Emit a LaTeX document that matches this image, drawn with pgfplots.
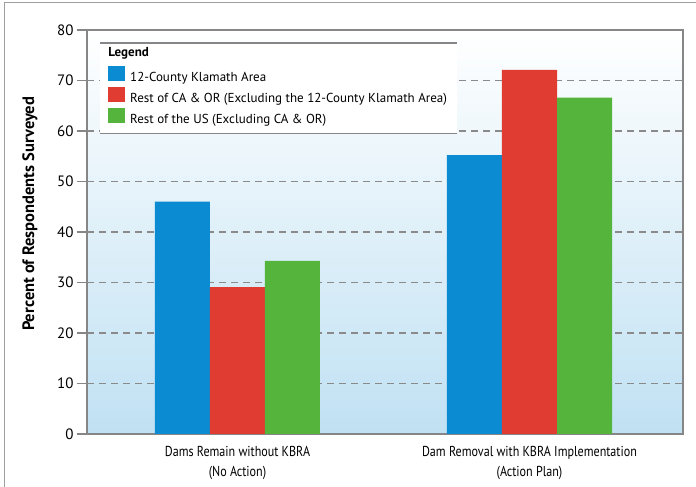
\documentclass[border=0pt]{standalone}
\usepackage{fontspec}
\setmainfont{PT Sans}
\newfontfamily\condfont[FakeStretch=0.84]{PT Sans}
\usepackage{pgfplots}
\pgfplotsset{compat=1.18}
\definecolor{kblue}{HTML}{0A8BD2}
\definecolor{kred}{HTML}{E03C31}
\definecolor{kgreen}{HTML}{55B43C}
\definecolor{framegray}{HTML}{868686}
\definecolor{gridgray}{HTML}{8A8A8A}
\definecolor{bgblue}{HTML}{C0E1F3}
\begin{document}
\begin{tikzpicture}[x=1pt,y=1pt]
\useasboundingbox (0,0) rectangle (696,487);
\draw[framegray!80, line width=1.5pt] (696,484.5) -- (4.5,484.5) -- (4.5,0);
\begin{axis}[
  at={(87pt,53pt)}, anchor=south west,
  scale only axis, width=596pt, height=404pt,
  xmin=-0.5154, xmax=1.5257, ymin=0, ymax=80,
  ybar=0pt, bar width=55pt,
  xtick={0,1},
  xticklabels={{Dams Remain without KBRA\\(No Action)},{Dam Removal with KBRA Implementation\\(Action Plan)}},
  xticklabel style={align=center, font=\condfont\fontsize{14.4}{20}\selectfont, yshift=1.5pt},
  x tick style={draw=none},
  ytick={0,10,...,80},
  tick pos=left, tick align=outside, major tick length=10pt,
  y tick style={framegray, line width=1.2pt},
  yticklabel style={font=\fontsize{15}{17}\selectfont},
  /pgf/number format/assume math mode=true,
  ymajorgrids,
  grid style={gridgray, line width=1.2pt, dash pattern=on 7pt off 5pt},
  axis background/.style={shade, top color=white, bottom color=bgblue},
  axis line style={framegray, line width=1.8pt},
  ylabel={\bfseries Percent of Respondents Surveyed},
  ylabel style={at={(axis description cs:-0.0956,0.545)}, anchor=center, font=\fontsize{16.5}{18}\selectfont},
  legend style={at={(axis description cs:0,1)}, anchor=north west, xshift=13pt, yshift=-13pt,
    draw=none, fill=white, font=\fontsize{13}{15}\selectfont,
    inner xsep=8pt, inner ysep=6pt, row sep=1.8pt, name=leg, cells={anchor=west}},
  legend cell align=left,
]
\addlegendimage{legend image code/.code={\node[overlay, anchor=base west, inner sep=0pt, font=\bfseries\fontsize{13}{15}\selectfont] at (0pt,0pt) {Legend};}}
\addlegendentry{\rule{0pt}{9pt}}
\addplot[fill=kblue, draw=none, legend image code/.code={\fill[kblue] (0pt,-3pt) rectangle (17pt,12pt); \path (20pt,0pt);}] coordinates {(0,46.0) (1,55.2)};
\addlegendentry{12-County Klamath Area}
\addplot[fill=kred, draw=none, legend image code/.code={\fill[kred] (0pt,-3pt) rectangle (17pt,12pt); \path (20pt,0pt);}] coordinates {(0,29.1) (1,72.1)};
\addlegendentry{Rest of CA \& OR (Excluding the 12-County Klamath Area)}
\addplot[fill=kgreen, draw=none, legend image code/.code={\fill[kgreen] (0pt,-3pt) rectangle (17pt,12pt); \path (20pt,0pt);}] coordinates {(0,34.3) (1,66.6)};
\addlegendentry{Rest of the US (Excluding CA \& OR)}
\end{axis}
\draw[framegray, line width=1.5pt] (leg.north west) -- (leg.north east);
\draw[framegray, line width=1.5pt] (leg.south west) -- (leg.south east);
\end{tikzpicture}
\end{document}
